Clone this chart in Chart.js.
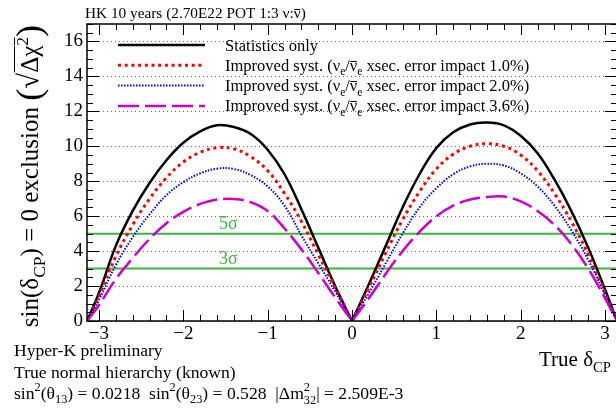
<!DOCTYPE html>
<html>
<head>
<meta charset="utf-8">
<script src="https://cdn.jsdelivr.net/npm/chart.js@4.4.0/dist/chart.umd.min.js"></script>
<style>
  html, body { margin: 0; padding: 0; overflow: hidden; background: #fff; }
  canvas { display: block; }
</style>
</head>
<body>
<canvas id="chart" width="624" height="412"></canvas>
<script>
// true delta_CP grid (rad)
const deltaCP = [-3.1416, -3.0, -2.8, -2.6, -2.4, -2.2, -2.0, -1.8, -1.6, -1.4, -1.2, -1.0, -0.8, -0.6, -0.4, -0.2, 0,
                 0.2, 0.4, 0.6, 0.8, 1.0, 1.2, 1.4, 1.6, 1.8, 2.0, 2.2, 2.4, 2.6, 2.8, 3.0, 3.1416];

// sqrt(delta chi2) for sin(delta_CP) = 0 exclusion
const statOnly = [0, 1.6, 4.3, 6.3, 7.9, 9.2, 10.2, 10.85, 11.2, 11.1, 10.7, 9.8, 8.4, 6.4, 4.2, 2.0, 0,
                  2.1, 4.3, 6.5, 8.4, 9.9, 10.8, 11.25, 11.36, 11.2, 10.6, 9.6, 8.1, 6.3, 4.2, 1.8, 0];
const syst10 = [0, 1.4, 3.7, 5.5, 7.0, 8.2, 9.1, 9.65, 9.92, 9.85, 9.4, 8.6, 7.3, 5.7, 3.8, 1.9, 0,
                1.9, 3.9, 5.8, 7.4, 8.7, 9.55, 10.0, 10.15, 10.0, 9.5, 8.6, 7.3, 5.7, 3.8, 1.6, 0];
const syst20 = [0, 1.2, 3.2, 4.8, 6.1, 7.2, 7.95, 8.45, 8.72, 8.7, 8.35, 7.7, 6.6, 4.9, 3.3, 1.7, 0,
                1.6, 3.3, 5.0, 6.5, 7.6, 8.4, 8.85, 9.0, 8.9, 8.45, 7.7, 6.6, 5.2, 3.5, 1.5, 0];
const syst36 = [0, 0.9, 2.4, 3.6, 4.7, 5.6, 6.25, 6.7, 6.95, 6.98, 6.8, 6.3, 5.3, 4.1, 2.75, 1.35, 0,
                1.3, 2.7, 4.0, 5.1, 6.0, 6.6, 6.95, 7.1, 7.12, 6.85, 6.3, 5.5, 4.4, 3.0, 1.3, 0];

const impacts = ['1.0%', '2.0%', '3.6%'];
const sigmaLevels = [3, 5];
const sigmaLabels = ['3σ', '5σ'];
const xTicks = [-3, -2, -1, 0, 1, 2, 3];
const yTicks = [0, 2, 4, 6, 8, 10, 12, 14, 16];

const SERIF = '"Liberation Serif", "Times New Roman", serif';
const GREEN = '#3db43d';

function font(size) { return size + 'px ' + SERIF; }

// tiny rich-text helper: plain strings, {t, sub}, {t, sup}, {t, over}, {stack:[sup, sub]}, {t, s: scale}
function layoutRich(ctx, segs, size) {
    let w = 0;
    const items = segs.map(seg => {
        const it = typeof seg === 'string' ? {t: seg} : Object.assign({}, seg);
        if (it.stack) {
            it.fs = size * 0.7;
            ctx.font = font(it.fs);
            it.w = Math.max(ctx.measureText(it.stack[0]).width, ctx.measureText(it.stack[1]).width);
        } else {
            it.fs = size * (it.sub || it.sup ? 0.7 : 1) * (it.s || 1);
            ctx.font = font(it.fs);
            it.w = ctx.measureText(it.t).width;
        }
        it.x = w;
        w += it.w;
        return it;
    });
    return {items, w};
}

function drawRich(ctx, segs, x, y, size, align, color) {
    const {items, w} = layoutRich(ctx, segs, size);
    const x0 = align === 'center' ? x - w / 2 : align === 'right' ? x - w : x;
    ctx.save();
    ctx.fillStyle = color;
    ctx.strokeStyle = color;
    ctx.textAlign = 'left';
    ctx.textBaseline = 'alphabetic';
    items.forEach(it => {
        const xi = x0 + it.x;
        ctx.font = font(it.fs);
        if (it.stack) {
            ctx.fillText(it.stack[0], xi, y - size * 0.42);
            ctx.fillText(it.stack[1], xi, y + size * 0.3);
            return;
        }
        const dy = it.sub ? size * 0.28 : it.sup ? -size * 0.42 : (it.dy || 0) * size;
        ctx.fillText(it.t, xi, y + dy);
        if (it.over) {
            const oy = Math.round(y + dy - it.fs * (it.overH || 0.62)) + 0.5;
            ctx.lineWidth = 1;
            ctx.beginPath();
            ctx.moveTo(xi + 0.5, oy);
            ctx.lineTo(xi + it.w - 0.5, oy);
            ctx.stroke();
        }
    });
    ctx.restore();
}

function series(values) {
    return deltaCP.map((d, i) => ({x: d, y: values[i]}));
}

// each curve is split at delta = 0 so the cusp stays sharp
function halves(values, style) {
    const pts = series(values);
    const mid = deltaCP.indexOf(0);
    return [pts.slice(0, mid + 1), pts.slice(mid)].map(data => Object.assign({
        data: data,
        pointRadius: 0,
        fill: false,
        tension: 0.4
    }, style));
}

const curveStyles = [
    {borderColor: '#000000', borderWidth: 2.5, borderDash: [], order: 3},
    {borderColor: '#ff0000', borderWidth: 3, borderDash: [3, 3.7], order: 2},
    {borderColor: '#0000ff', borderWidth: 2, borderDash: [1.5, 1.5], order: 1},
    {borderColor: '#cc00cc', borderWidth: 2.5, borderDash: [21, 6], order: 0}
];

const datasets = [];
[statOnly, syst10, syst20, syst36].forEach((vals, i) => {
    halves(vals, curveStyles[i]).forEach(ds => datasets.push(ds));
});
sigmaLevels.forEach(level => {
    datasets.push({
        data: [{x: -Math.PI, y: level}, {x: Math.PI, y: level}],
        borderColor: GREEN,
        borderWidth: 2,
        pointRadius: 0,
        order: 5
    });
});

const legendRows = [['Statistics only']].concat(impacts.map(imp => [
    'Improved syst. (', 'ν', {t: 'e', sub: true}, '/', {t: 'ν', over: true}, {t: 'e', sub: true},
    ' xsec. error impact ' + imp + ')'
]));

const frameTicks = {
    id: 'frameTicks',
    afterDatasetsDraw(chart) {
        const {ctx, chartArea: a, scales: {x, y}} = chart;
        ctx.save();
        ctx.strokeStyle = '#000';
        ctx.lineWidth = 1;
        const line = (x1, y1, x2, y2) => {
            ctx.beginPath();
            ctx.moveTo(x1, y1);
            ctx.lineTo(x2, y2);
            ctx.stroke();
        };
        for (let i = -15; i <= 15; i++) {
            const px = Math.round(x.getPixelForValue(i * 0.2)) + 0.5;
            const len = i % 5 === 0 ? 11 : 6;
            line(px, a.bottom, px, a.bottom - len);
            line(px, a.top, px, a.top + len);
        }
        for (let i = 0; i <= 34; i++) {
            const py = Math.round(y.getPixelForValue(i * 0.5)) + 0.5;
            const len = i % 4 === 0 ? 12 : 6;
            line(a.left, py, a.left + len, py);
            line(a.right, py, a.right - len, py);
        }
        ctx.lineWidth = 1.5;
        ctx.strokeRect(a.left, a.top, a.right - a.left, a.bottom - a.top);
        ctx.restore();
    },
    afterDraw(chart) {
        const {ctx, scales: {y}} = chart;

        // sigma labels
        sigmaLevels.forEach((level, i) => {
            drawRich(ctx, [sigmaLabels[i]], 219, y.getPixelForValue(level) - 5, 18, 'left', GREEN);
        });

        // legend
        legendRows.forEach((row, i) => {
            const cy = 45 + i * 20.3;
            const st = curveStyles[i];
            ctx.save();
            ctx.strokeStyle = st.borderColor;
            ctx.lineWidth = st.borderWidth;
            ctx.setLineDash(st.borderDash);
            ctx.beginPath();
            ctx.moveTo(118, cy);
            ctx.lineTo(205, cy);
            ctx.stroke();
            ctx.restore();
            drawRich(ctx, row, 225, cy + 5.5, 16.5, 'left', '#000');
        });

        // title
        drawRich(ctx, ['HK 10 years (2.70E22 POT 1:3 ν:', {t: 'ν', over: true}, ')'], 85, 18, 15.3, 'left', '#000');

        // axis titles
        drawRich(ctx, ['True δ', {t: 'CP', sub: true}], 539, 366, 21, 'left', '#000');
        ctx.save();
        ctx.translate(38, 176);
        ctx.rotate(-Math.PI / 2);
        drawRich(ctx, ['sin(δ', {t: 'CP', sub: true}, ') = 0 exclusion ', {t: '(', s: 1.45, dy: 0.1},
            {t: '√', s: 1.15}, {t: 'Δχ', over: true, overH: 0.95}, {t: '2', sup: true, over: true, overH: 0.76},
            {t: ')', s: 1.45, dy: 0.1}], 0, 0, 25, 'center', '#000');
        ctx.restore();

        // bottom notes
        drawRich(ctx, ['Hyper-K preliminary'], 14, 355.5, 17.6, 'left', '#000');
        drawRich(ctx, ['True normal hierarchy (known)'], 14, 377.5, 17.6, 'left', '#000');
        drawRich(ctx, ['sin', {t: '2', sup: true}, '(θ', {t: '13', sub: true}, ') = 0.0218  sin', {t: '2', sup: true},
            '(θ', {t: '23', sub: true}, ') = 0.528  |Δm', {stack: ['2', '32']}, '| = 2.509E-3'],
            14, 398.5, 17.6, 'left', '#000');
    }
};

const minus = v => (v < 0 ? '\u2212' + Math.abs(v) : String(v));

new Chart(document.getElementById('chart'), {
    type: 'line',
    data: {datasets: datasets},
    options: {
        responsive: false,
        animation: false,
        devicePixelRatio: 1,
        layout: {padding: {top: 24, right: 7, left: 0, bottom: 0}},
        plugins: {legend: {display: false}, tooltip: {enabled: false}},
        scales: {
            x: {
                type: 'linear',
                min: -Math.PI,
                max: Math.PI,
                afterBuildTicks: scale => { scale.ticks = xTicks.map(v => ({value: v})); },
                afterFit: scale => { scale.height = 91; },
                grid: {display: false, drawTicks: false},
                border: {display: false},
                ticks: {color: '#000', font: {family: SERIF, size: 19}, padding: 2, maxRotation: 0, callback: minus}
            },
            y: {
                type: 'linear',
                min: 0,
                max: 17,
                afterBuildTicks: scale => { scale.ticks = yTicks.map(v => ({value: v})); },
                afterFit: scale => { scale.width = 87; },
                grid: {color: '#666', lineWidth: 1, drawTicks: false},
                border: {display: false, dash: [1, 3]},
                ticks: {color: '#000', font: {family: SERIF, size: 19}, padding: 4}
            }
        }
    },
    plugins: [frameTicks]
});
</script>
</body>
</html>
